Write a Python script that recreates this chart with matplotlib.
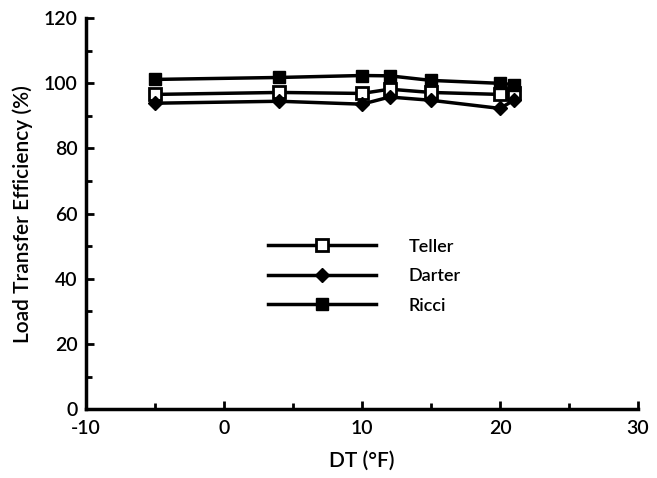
import matplotlib.pyplot as plt
from matplotlib.ticker import MultipleLocator

plt.rcParams['font.family'] = ['Lato', 'DejaVu Sans']
plt.rcParams['axes.unicode_minus'] = False

dt = [-5, 4, 10, 12, 15, 20, 21]
teller = [96.6, 97.2, 96.9, 98.2, 97.2, 96.6, 96.9]
darter = [93.9, 94.5, 93.6, 95.8, 94.8, 92.3, 94.8]
ricci = [101.2, 101.8, 102.4, 102.3, 100.9, 100.0, 99.6]

fig = plt.figure(figsize=(6.57, 4.78), dpi=100)
ax = fig.add_axes([0.131, 0.144, 0.84, 0.818])

ax.plot(dt, teller, color='black', lw=2.5, marker='s', ms=8, mfc='white',
        mec='black', mew=2, label='Teller')
ax.plot(dt, darter, color='black', lw=2.5, marker='D', ms=7, label='Darter')
ax.plot(dt, ricci, color='black', lw=2.5, marker='s', ms=9, label='Ricci')

ax.set_xlim(-10, 30)
ax.set_ylim(0, 120)
ax.xaxis.set_major_locator(MultipleLocator(10))
ax.xaxis.set_minor_locator(MultipleLocator(5))
ax.yaxis.set_major_locator(MultipleLocator(20))
ax.yaxis.set_minor_locator(MultipleLocator(10))
ax.tick_params(which='both', direction='in', width=2, labelsize=14)
ax.tick_params(which='major', length=6)
ax.tick_params(which='minor', length=4)
ax.tick_params(axis='x', pad=8)
ax.tick_params(axis='y', pad=6)
for lbl in ax.get_xticklabels() + ax.get_yticklabels():
    lbl.set_fontweight('semibold')
for s in ['top', 'right']:
    ax.spines[s].set_visible(False)
for s in ['left', 'bottom']:
    ax.spines[s].set_linewidth(2.5)

ax.set_xlabel('DT (°F)', fontsize=15, fontweight='semibold', labelpad=10)
ax.set_ylabel('Load Transfer Efficiency (%)', fontsize=15,
              fontweight='semibold', labelpad=8)

leg = ax.legend(loc='center left', bbox_to_anchor=(0.3, 0.34), frameon=False,
                handlelength=6, handletextpad=1.8, labelspacing=0.75,
                prop={'size': 13, 'weight': 'semibold'})

fig.savefig('out.png')
